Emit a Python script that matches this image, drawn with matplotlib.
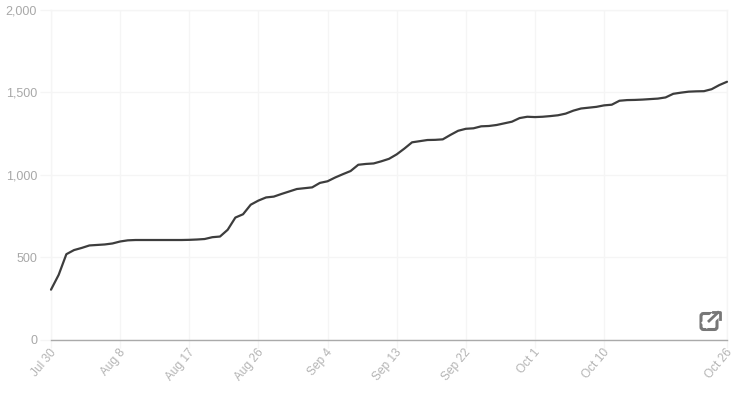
import matplotlib
matplotlib.use("Agg")
import matplotlib.pyplot as plt
import pandas as pd
from matplotlib.lines import Line2D
from matplotlib.patches import FancyBboxPatch
from matplotlib.transforms import ScaledTranslation

start_date = "2021-07-30"
values = [302, 392, 517, 542, 555, 570, 573, 576, 582, 594,
          601, 603, 603, 603, 603, 603, 603, 603, 604, 606,
          609, 620, 624, 665, 739, 759, 817, 842, 861, 866,
          882, 897, 912, 917, 922, 949, 959, 982, 1002, 1021,
          1059, 1064, 1067, 1080, 1095, 1122, 1157, 1195, 1202, 1209,
          1210, 1213, 1240, 1265, 1277, 1280, 1292, 1294, 1300, 1310,
          1320, 1342, 1350, 1348, 1350, 1354, 1359, 1369, 1387, 1400,
          1405, 1410, 1419, 1423, 1447, 1451, 1452, 1454, 1457, 1460,
          1467, 1489, 1496, 1502, 1504, 1505, 1517, 1542, 1562]
tick_dates = ["2021-07-30", "2021-08-08", "2021-08-17", "2021-08-26", "2021-09-04",
              "2021-09-13", "2021-09-22", "2021-10-01", "2021-10-10", "2021-10-26"]
tick_labels = ["Jul 30", "Aug 8", "Aug 17", "Aug 26", "Sep 4",
               "Sep 13", "Sep 22", "Oct 1", "Oct 10", "Oct 26"]
y_ticks = [0, 500, 1000, 1500, 2000]

W, H = 742, 396
plt.rcParams["font.family"] = ["Liberation Sans", "DejaVu Sans"]
fig = plt.figure(figsize=(W / 100, H / 100), dpi=100)
ax = fig.add_axes([51 / W, 1 - 339.5 / H, (727 - 51) / W, 330 / H])

dates = pd.date_range(start_date, periods=len(values), freq="D")
ticks = pd.to_datetime(tick_dates)
ax.plot(dates, values, color="#3d3d3d", lw=1.6, solid_joinstyle="round",
        solid_capstyle="round", zorder=3, clip_on=False)
ax.set_xlim(dates[0], dates[-1])
ax.set_ylim(0, 2000)

ax.set_xticks(ticks)
ax.set_xticklabels(tick_labels, rotation=50, ha="right", va="top",
                   rotation_mode="anchor", color="#b4b4b4", fontsize=8.6)
ax.set_yticks(y_ticks)
ax.set_yticklabels([f"{v:,}" for v in y_ticks], color="#a8a8a8", fontsize=9)
ax.grid(True, color="#f5f5f5", lw=1)
ax.set_axisbelow(True)
ax.tick_params(axis="x", length=6, width=1, color="#f5f5f5", pad=1)
ax.tick_params(axis="y", length=8, width=1, color="#f5f5f5", pad=2)
offset = ScaledTranslation(-1.5 / 100, 2.5 / 100, fig.dpi_scale_trans)
for label in ax.get_xticklabels():
    label.set_transform(label.get_transform() + offset)
for s in ["top", "right", "left"]:
    ax.spines[s].set_color("#f5f5f5")
    ax.spines[s].set_linewidth(1)
ax.spines["bottom"].set_color("#aaaaaa")
ax.spines["bottom"].set_linewidth(1)

# external-link icon, in figure pixels
icon = "#777777"
def px(x, y):
    return x / W, 1 - y / H
fig.add_artist(FancyBboxPatch((701, H - 329.5), 16, 16, boxstyle="round,pad=0,rounding_size=2.5",
                              fc="none", ec=icon, lw=2.2, transform=None))
fig.add_artist(Line2D(*zip(px(707, 323), px(720, 311)), color="white", lw=6))
fig.add_artist(Line2D(*zip(px(709, 321), px(718, 312.5)), color=icon, lw=2))
fig.add_artist(Line2D(*zip(px(712.5, 312), px(719.5, 312), px(719.5, 319)), color=icon, lw=2))

fig.savefig("out.png", dpi=100, facecolor="white")
